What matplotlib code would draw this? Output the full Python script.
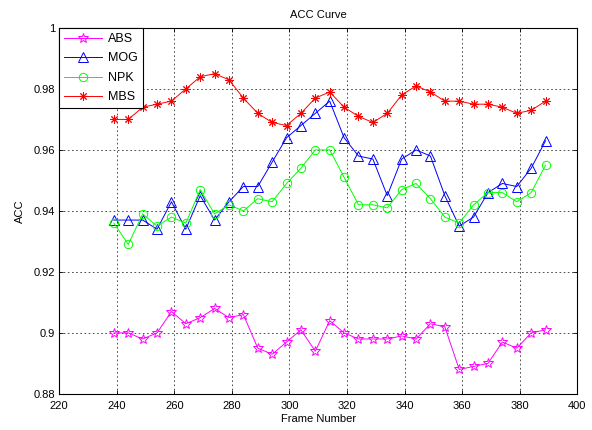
import numpy as np
import matplotlib
matplotlib.use('Agg')
import matplotlib.pyplot as plt

## data
frames = np.arange(239, 390, 5)
abs_acc = [0.900, 0.900, 0.898, 0.900, 0.907, 0.903, 0.905, 0.908, 0.905, 0.906,
           0.895, 0.893, 0.897, 0.901, 0.894, 0.904, 0.900, 0.898, 0.898, 0.898,
           0.899, 0.898, 0.903, 0.902, 0.888, 0.889, 0.890, 0.897, 0.895, 0.900, 0.901]
mog_acc = [0.937, 0.937, 0.937, 0.934, 0.943, 0.934, 0.945, 0.937, 0.943, 0.948,
           0.948, 0.956, 0.964, 0.968, 0.972, 0.976, 0.964, 0.958, 0.957, 0.945,
           0.957, 0.960, 0.958, 0.945, 0.935, 0.938, 0.946, 0.949, 0.948, 0.954, 0.963]
npk_acc = [0.936, 0.929, 0.939, 0.935, 0.938, 0.936, 0.947, 0.939, 0.942, 0.940,
           0.944, 0.943, 0.949, 0.954, 0.960, 0.960, 0.951, 0.942, 0.942, 0.941,
           0.947, 0.949, 0.944, 0.938, 0.936, 0.942, 0.946, 0.946, 0.943, 0.946, 0.955]
mbs_acc = [0.970, 0.970, 0.974, 0.975, 0.976, 0.980, 0.984, 0.985, 0.983, 0.977,
           0.972, 0.969, 0.968, 0.972, 0.977, 0.979, 0.974, 0.971, 0.969, 0.972,
           0.978, 0.981, 0.979, 0.976, 0.976, 0.975, 0.975, 0.974, 0.972, 0.973, 0.976]

plt.rcParams['font.family'] = ['Liberation Sans', 'DejaVu Sans']
plt.rcParams['font.size'] = 8

fig = plt.figure(figsize=(5.92, 4.30), dpi=100)
ax = fig.add_axes([0.1, 0.084, 0.875, 0.851])

ax.plot(frames, abs_acc, color='#ff00ff', lw=0.7, marker='*', ms=7,
        mfc='none', mew=0.7, label='ABS')
ax.plot(frames, mog_acc, color='#0000ff', lw=0.7, marker='^', ms=6.5,
        mfc='none', mew=0.7, label='MOG')
ax.plot(frames, npk_acc, color='#00ff00', lw=0.7, marker='o', ms=6,
        mfc='none', mew=0.7, label='NPK')
ax.plot(frames, mbs_acc, color='#ff0000', lw=0.7, marker=(8, 2, 0), ms=6,
        mew=0.7, label='MBS')

ax.set_xlim(220, 400)
ax.set_ylim(0.88, 1.0)
ax.set_xticks(np.arange(220, 401, 20))
ax.set_yticks([0.88, 0.90, 0.92, 0.94, 0.96, 0.98, 1.0])
ax.set_yticklabels(['0.88', '0.9', '0.92', '0.94', '0.96', '0.98', '1'])
ax.tick_params(direction='in', length=3, width=0.6, top=True, right=True)
ax.tick_params(axis='x', pad=5)
ax.tick_params(axis='y', pad=3)
ax.grid(True, color='black', linestyle=(0, (2, 3)), linewidth=0.6, alpha=0.8)
for s in ax.spines.values():
    s.set_linewidth(0.8)

ax.set_title('ACC Curve', fontsize=8, pad=7)
ax.set_xlabel('Frame Number', labelpad=2)
ax.set_ylabel('ACC', labelpad=6)

leg = ax.legend(loc='upper left', fontsize=9, fancybox=False, framealpha=1,
                edgecolor='black', borderaxespad=0, handlelength=3.0,
                borderpad=0.4, labelspacing=0.6, handletextpad=0.5)
leg.get_frame().set_linewidth(0.8)

plt.savefig('out.png', dpi=100)
